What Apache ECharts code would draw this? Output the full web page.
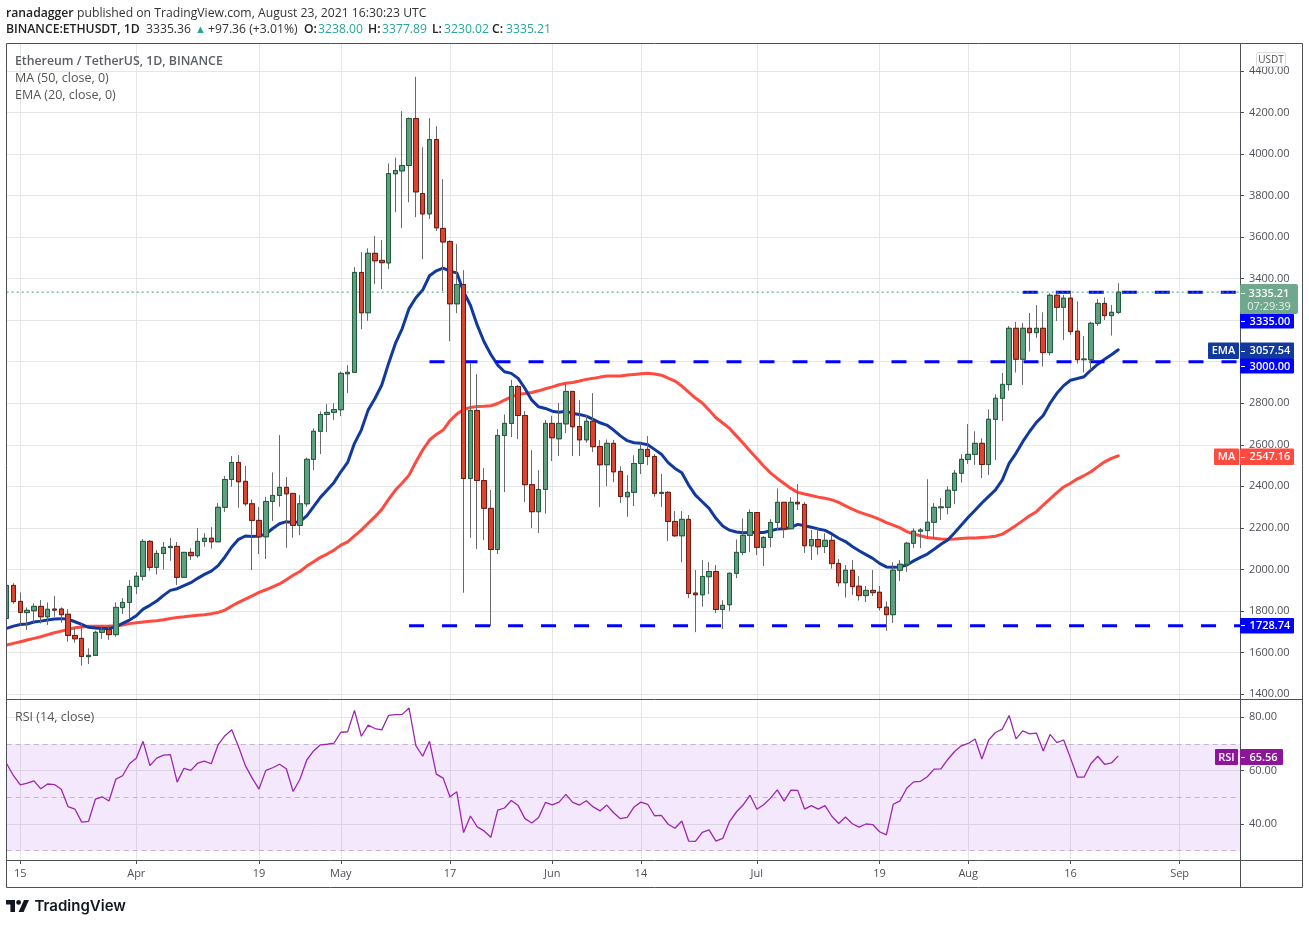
<!DOCTYPE html>
<html><head><meta charset="utf-8"><title>ETHUSDT</title>
<style>html,body{margin:0;padding:0;background:#fff}#c{width:1309px;height:925px}</style>
<script src="https://cdn.jsdelivr.net/npm/echarts@6/dist/echarts.min.js"></script>
</head><body><div id="c"></div>
<script>
const categories=[
'03-13','03-14','03-15','03-16','03-17','03-18','03-19','03-20','03-21','03-22','03-23','03-24','03-25','03-26','03-27','03-28','03-29','03-30','03-31',
'04-01','04-02','04-03','04-04','04-05','04-06','04-07','04-08','04-09','04-10','04-11','04-12','04-13','04-14','04-15','04-16','04-17','04-18','04-19','04-20','04-21','04-22','04-23','04-24','04-25','04-26','04-27','04-28','04-29','04-30',
'05-01','05-02','05-03','05-04','05-05','05-06','05-07','05-08','05-09','05-10','05-11','05-12','05-13','05-14','05-15','05-16','05-17','05-18','05-19','05-20','05-21','05-22','05-23','05-24','05-25','05-26','05-27','05-28','05-29','05-30','05-31',
'06-01','06-02','06-03','06-04','06-05','06-06','06-07','06-08','06-09','06-10','06-11','06-12','06-13','06-14','06-15','06-16','06-17','06-18','06-19','06-20','06-21','06-22','06-23','06-24','06-25','06-26','06-27','06-28','06-29','06-30',
'07-01','07-02','07-03','07-04','07-05','07-06','07-07','07-08','07-09','07-10','07-11','07-12','07-13','07-14','07-15','07-16','07-17','07-18','07-19','07-20','07-21','07-22','07-23','07-24','07-25','07-26','07-27','07-28','07-29','07-30','07-31',
'08-01','08-02','08-03','08-04','08-05','08-06','08-07','08-08','08-09','08-10','08-11','08-12','08-13','08-14','08-15','08-16','08-17','08-18','08-19','08-20','08-21','08-22','08-23','08-24','08-25','08-26','08-27','08-28','08-29','08-30','08-31',
'09-01','09-02','09-03','09-04','09-05','09-06','09-07','09-08','09-09','09-10'];
const opens=[1764,1923,1846,1792,1801,1822,1772,1809,1809,1784,
1682,1668,1580,1586,1697,1711,1686,1816,1841,1918,
1967,2135,2010,2077,2105,2111,1962,2082,2066,2135,
2150,2133,2299,2433,2515,2424,2316,2236,2157,2327,
2356,2395,2366,2212,2316,2530,2665,2746,2756,2769,
2942,2949,3430,3236,3522,3488,3476,3905,3919,3945,
4171,3810,3712,4070,3642,3579,3279,3372,2438,2765,
2428,2294,2096,2645,2703,2881,2741,2408,2278,2385,
2703,2629,2701,2857,2688,2624,2713,2592,2504,2607,
2472,2350,2371,2510,2578,2544,2366,2371,2231,2162,
2241,1886,1878,1965,1990,1807,1830,1981,2082,2164,
2274,2106,2154,2226,2323,2196,2323,2313,2114,2144,
2110,2140,2029,1936,1996,1919,1874,1899,1890,1818,
1782,1996,2025,2126,2184,2187,2227,2297,2299,2381,
2463,2529,2554,2607,2505,2723,2824,2890,3161,3012,
3161,3140,3161,3044,3320,3262,3306,3147,3010,3010,
3185,3281,3222,3238];
const closes=[1923,1845,1793,1803,1822,1772,1808,1804,1782,1682,
1666,1581,1586,1697,1711,1686,1817,1841,1918,1967,
2135,2010,2077,2106,2111,1962,2082,2066,2135,2150,
2133,2299,2433,2515,2422,2316,2236,2157,2327,2356,
2395,2364,2212,2316,2530,2665,2746,2756,2770,2944,
2949,3430,3236,3522,3486,3477,3906,3921,3945,4171,
3818,3712,4070,3645,3577,3279,3372,2438,2765,2428,
2294,2096,2645,2703,2881,2741,2408,2278,2385,2703,
2634,2703,2857,2687,2624,2713,2591,2504,2607,2470,
2351,2371,2510,2578,2544,2366,2371,2231,2162,2241,
1884,1878,1966,1990,1807,1827,1981,2082,2164,2274,
2106,2154,2226,2323,2196,2323,2316,2114,2144,2109,
2140,2028,1936,1996,1917,1874,1899,1888,1816,1782,
1996,2025,2126,2184,2190,2227,2299,2301,2381,2463,
2530,2554,2607,2505,2723,2824,2891,3161,3012,3161,
3140,3161,3044,3320,3262,3306,3145,3010,3013,3185,
3281,3222,3238,3335.21];
const highs=[1941,1933,1889,1817,1837,1853,1841,1872,1817,1809,
1719,1740,1620,1705,1732,1732,1841,1862,1949,1987,
2146,2142,2093,2132,2151,2132,2082,2103,2199,2174,
2204,2320,2450,2546,2551,2498,2337,2300,2350,2467,
2647,2445,2366,2358,2539,2679,2761,2796,2801,2953,
2984,3456,3528,3546,3605,3586,3955,3983,4207,4176,
4372,4033,4173,4134,3879,3585,3566,3441,2992,2940,
2488,2382,2676,2746,2912,2887,2762,2574,2478,2719,
2740,2801,2896,2857,2815,2743,2849,2623,2626,2623,
2496,2454,2550,2610,2642,2555,2459,2377,2281,2281,
2262,1997,2045,2035,2021,1852,1986,2144,2246,2289,
2274,2160,2242,2390,2323,2347,2411,2324,2190,2198,
2174,2166,2050,2021,2045,1968,1920,1997,1920,1845,
2034,2045,2132,2198,2200,2434,2320,2344,2400,2479,
2554,2700,2665,2631,2771,2843,2946,3172,3192,3187,
3235,3273,3238,3330,3330,3322,3336,3291,3124,3193,
3302,3310,3273,3377.89];
const lows=[1750,1835,1729,1708,1740,1740,1732,1772,1743,1652,
1647,1536,1544,1586,1665,1660,1676,1785,1764,1881,
1946,1994,1975,1999,2042,1925,1962,2045,2056,2109,
2100,2133,2277,2398,2297,2305,1997,2074,2050,2233,
2302,2104,2153,2165,2302,2478,2555,2661,2719,2738,
2849,2949,3157,3197,3374,3350,3446,3720,3643,3768,
3696,3494,3687,3629,3340,3099,3234,1888,2152,2098,
2141,1727,2074,2372,2637,2627,2324,2199,2175,2268,
2522,2546,2656,2546,2546,2610,2565,2300,2401,2420,
2319,2253,2305,2459,2502,2350,2300,2136,2156,2035,
1862,1698,1820,1881,1790,1713,1799,1958,2069,2083,
2069,2016,2107,2189,2151,2193,2286,2079,2045,2070,
2079,2004,1917,1864,1877,1850,1843,1872,1802,1704,
1742,1944,1988,2103,2103,2147,2147,2238,2265,2314,
2418,2508,2503,2440,2455,2527,2715,2861,2948,2888,
3049,3115,2977,3030,3196,3105,3129,2991,2948,2960,
3172,3201,3126,3230.02];
const emaValues=[1716,1727,1735,1737,1747,1751,1756,1761,1763,1760,
1748,1735,1721,1718,1716,1715,1724,1740,1756,1777,
1809,1827,1848,1875,1899,1907,1922,1936,1957,1976,
1992,2018,2060,2108,2145,2161,2159,2161,2170,2197,
2220,2230,2226,2230,2258,2302,2347,2382,2419,2470,
2515,2607,2671,2767,2823,2888,2992,3088,3160,3256,
3308,3345,3414,3438,3451,3436,3428,3337,3272,3176,
3096,3035,2984,2952,2944,2920,2871,2815,2783,2775,
2762,2757,2762,2751,2746,2738,2722,2706,2695,2671,
2643,2620,2610,2607,2600,2578,2555,2514,2486,2465,
2406,2358,2326,2294,2246,2209,2189,2180,2176,2178,
2178,2178,2186,2194,2196,2202,2217,2210,2203,2195,
2188,2171,2150,2134,2110,2090,2071,2053,2029,2012,
2010,2012,2021,2041,2058,2074,2097,2121,2142,2177,
2214,2251,2285,2320,2352,2383,2431,2511,2559,2615,
2664,2708,2741,2800,2848,2885,2911,2919,2928,2960,
2988,3012,3034,3057.54];
const maValues=[1636,1644,1652,1660,1668,1676,1686,1695,1703,1711,
1719,1723,1726,1726,1726,1727,1729,1732,1739,1743,
1747,1750,1753,1758,1764,1769,1772,1776,1779,1782,
1787,1793,1804,1824,1841,1857,1873,1889,1902,1916,
1930,1950,1972,1990,2016,2037,2058,2074,2093,2117,
2133,2161,2189,2222,2254,2289,2337,2382,2416,2454,
2517,2575,2623,2650,2671,2716,2748,2770,2780,2785,
2786,2788,2799,2815,2831,2843,2847,2852,2860,2870,
2879,2889,2896,2900,2907,2915,2920,2926,2931,2931,
2931,2936,2939,2942,2945,2941,2935,2921,2907,2883,
2854,2825,2801,2767,2730,2705,2679,2643,2607,2570,
2534,2498,2465,2438,2414,2390,2371,2363,2356,2348,
2343,2335,2323,2306,2290,2276,2265,2254,2241,2225,
2213,2200,2182,2170,2162,2154,2150,2146,2145,2146,
2149,2151,2151,2154,2156,2160,2170,2190,2212,2235,
2258,2278,2310,2340,2370,2397,2415,2436,2452,2470,
2495,2518,2535,2547.16];
const rsiValues=[62.6,58.1,54.7,55.3,56.2,53.2,55.0,54.8,53.0,46.5,
45.6,40.7,41.0,49.3,50.2,48.6,56.8,58.1,62.6,64.7,
71.0,61.9,64.7,65.8,66.0,55.7,60.9,60.1,62.8,63.6,
62.6,69.7,73.1,75.3,69.0,61.9,57.2,53.1,60.1,61.1,
62.4,60.7,52.2,56.8,64.0,67.4,69.7,69.9,70.3,74.4,
74.6,82.6,72.9,77.1,75.8,75.3,80.7,81.0,81.1,83.5,
69.4,65.4,71.0,58.7,57.2,50.2,52.1,36.8,43.0,38.9,
37.4,35.0,45.2,46.0,48.8,46.9,42.0,40.4,42.4,48.1,
47.2,48.2,51.1,48.1,47.1,48.7,46.4,44.9,47.1,44.2,
42.0,42.5,46.4,48.2,47.4,43.1,43.2,39.9,38.4,41.1,
33.6,33.5,36.9,37.8,33.6,34.6,40.9,44.5,47.2,50.8,
45.5,47.2,49.7,52.8,48.6,52.7,52.6,45.6,46.9,45.6,
46.9,42.9,40.2,42.6,40.1,38.8,40.0,39.8,37.1,35.9,
47.4,48.7,53.5,55.8,56.0,57.7,60.6,60.7,64.2,67.2,
69.3,70.2,71.9,64.4,71.5,74.3,75.6,80.7,71.9,74.9,
73.8,74.1,67.4,73.6,70.5,71.5,64.7,57.6,57.6,62.7,
65.4,62.4,62.9,65.56];
const tickDates=['03-15','04-01','04-19','05-01','05-17','06-01','06-14','07-01','07-19','08-01','08-16','09-01'];
const tickLabels=['15','Apr','19','May','17','Jun','14','Jul','19','Aug','16','Sep'];
const priceTicks=[1400,1600,1800,2000,2200,2400,2600,2800,3000,3200,3400,3600,3800,4000,4200,4400];
const rsiTicks=[40,60,80];
const rsiLevels=[70,50,30];
const lastPrice=3335.21;
const levelA=3335, levelAFrom='08-09';
const levelB=3000, levelBFrom='05-14';
const levelC=1728.74, levelCFrom='05-11';

const UI='"Open Sans", sans-serif';
const isTick=(i,v)=>tickDates.includes(v);
const axisGrey='#4e5058';
const gridCol='#e6e6e6';
const level=(v,from)=>categories.map((c,i)=>i>=categories.indexOf(from)?v:null);
const gw=[], bodies=[];
opens.forEach((o,i)=>{
  gw.push([o,closes[i],lows[i],highs[i]]);
  bodies.push([o,closes[i],Math.min(o,closes[i]),Math.max(o,closes[i])]);
});
const line=(name,data,color,z)=>({name,type:'line',data,xAxisIndex:0,yAxisIndex:0,symbol:'none',z,
  lineStyle:{color,width:3,cap:'round'},itemStyle:{color},silent:true});
const dash=(data)=>({type:'line',data,xAxisIndex:0,yAxisIndex:0,symbol:'none',z:3,silent:true,connectNulls:false,
  lineStyle:{color:'#0000ff',width:3,type:[15,18]}});

const chart=echarts.init(document.getElementById('c'),null,{renderer:'canvas'});
const gfx=[];
const T=(x,y,text,o={})=>gfx.push({type:'text',x,y,z:50,silent:true,style:Object.assign({text,fill:'#555',font:'12.5px '+UI,textVerticalAlign:'middle'},o)});
const R=(x,y,w,h,fill,r=1,z=40)=>gfx.push({type:'rect',z,silent:true,shape:{x,y,width:w,height:h,r},style:{fill}});
const L=(x1,y1,x2,y2,stroke,z=45)=>gfx.push({type:'line',z,silent:true,shape:{x1,y1,x2,y2},style:{stroke,lineWidth:1}});
// margin left of the frame hides the half candle cut by the pane edge
R(0,40,6.5,660,'#ffffff',0,25);
// frame
gfx.push({type:'rect',z:30,silent:true,shape:{x:6.5,y:43.5,width:1296,height:844},style:{fill:'none',stroke:axisGrey,lineWidth:1}});
L(6,699.5,1303,699.5,axisGrey,30);L(6,860.5,1303,860.5,axisGrey,30);L(1240.5,44,1240.5,888,axisGrey,30);
// header
const B='600 12.2px '+UI, N='12.2px '+UI, V='#26a69a';
T(6,13.5,'ranadagger',{font:B,fill:'#222'});
T(77,13.5,'published on TradingView.com, August 23, 2021 16:30:23 UTC',{font:N,fill:'#333'});
T(6,30,'BINANCE:ETHUSDT, 1D',{font:B,fill:'#222'});
T(146,30,'3335.36',{font:N,fill:'#333'});
T(195,30,'▲',{font:'11px '+UI,fill:V});
T(208,30,'+97.36 (+3.01%)',{font:N,fill:'#333'});
T(304,30,'O:',{font:B,fill:'#222'});T(318,30,'3238.00',{font:N,fill:V});
T(368,30,'H:',{font:B,fill:'#222'});T(382,30,'3377.89',{font:N,fill:V});
T(432,30,'L:',{font:B,fill:'#222'});T(444,30,'3230.02',{font:N,fill:V});
T(492,30,'C:',{font:B,fill:'#222'});T(506,30,'3335.21',{font:N,fill:V});
// pane legends
T(15,61,'Ethereum / TetherUS, 1D, BINANCE',{font:'600 12.3px '+UI,fill:'#5a5d66'});
T(15,78,'MA (50, close, 0)');T(15,95,'EMA (20, close, 0)');T(15,717,'RSI (14, close)');
// USDT box
gfx.push({type:'rect',z:40,silent:true,shape:{x:1256.5,y:52.5,width:29,height:14,r:2},style:{fill:'#fff',stroke:'#ddd'}});
T(1271,60,'USDT',{font:'10px '+UI,textAlign:'center',fill:'#555'});
// value labels
const tag=(x,y,w,h,fill,text,o={})=>{R(x,y,w,h,fill);T(x+w/2+(o.dx||0),y+h/2+.5,text,{font:(o.bold||'600')+' 11px '+UI,fill:'#fff',textAlign:'center'});};
R(1240,284,58,30,'#6fa88c',2);
T(1269,293.5,'3335.21',{font:'600 11px '+UI,fill:'#fff',textAlign:'center'});
T(1269,306.5,'07:29:39',{font:'11px '+UI,fill:'#e4f0ea',textAlign:'center'});
tag(1240,314,54,14.5,'#0000ff','3335.00',{dx:3});
tag(1208,342.5,31,16.5,'#123a9e','EMA');
tag(1240,342.5,54,16.5,'#123a9e','3057.54',{dx:3});
tag(1240,358.5,54,15,'#0000ff','3000.00',{dx:3});
tag(1214,448.5,25,16.5,'#ff4a40','MA');
tag(1240,448.5,54,16.5,'#ff4a40','2547.16',{dx:3});
tag(1240,618,54,15.5,'#0000ff','1728.74',{dx:3});
tag(1215,749,23,16,'#8e1599','RSI');
tag(1240,749,43,16,'#8e1599','65.56',{dx:2});
[321,351,366,457,625,757,293].forEach(y=>L(1241,y+.5,1245,y+.5,'#ffffff'));
// logo
const P=pts=>gfx.push({type:'polygon',z:50,silent:true,shape:{points:pts},style:{fill:'#131722'}});
P([[6,900],[15,900],[15,912],[10.4,912],[10.4,904.5],[6,904.5]]);
gfx.push({type:'circle',z:50,silent:true,shape:{cx:18.6,cy:902.4,r:2.4},style:{fill:'#131722'}});
P([[24,900],[29,900],[23.6,912],[18.6,912]]);
T(34.5,906.5,'TradingView',{font:'600 15px Inter, sans-serif',fill:'#131722'});

chart.setOption({
 animation:false,backgroundColor:'#fff',
 grid:[{left:6.7,right:68,top:44,height:655},{left:6.7,right:68,top:700,height:160}],
 xAxis:[0,1].map(k=>({type:'category',gridIndex:k,data:categories,boundaryGap:false,
   axisLine:{show:false},
   axisTick:{show:k===1,interval:isTick,length:4,lineStyle:{color:axisGrey}},
   axisLabel:{show:k===1,interval:isTick,formatter:v=>tickLabels[tickDates.indexOf(v)],color:'#4e5058',fontSize:11,fontFamily:UI,margin:8,hideOverlap:false},
   splitLine:{show:true,interval:isTick,lineStyle:{color:gridCol,width:1}}})),
 yAxis:[
  {type:'value',gridIndex:0,position:'right',min:1376,max:4530,offset:-1,
   axisLine:{show:false},axisTick:{show:true,customValues:priceTicks,length:4,lineStyle:{color:axisGrey}},
   axisLabel:{customValues:priceTicks,formatter:v=>v.toFixed(2),color:'#4e5058',fontSize:11,fontFamily:UI,margin:9,padding:[4,0,0,0]},
   splitLine:{show:true,lineStyle:{color:gridCol,width:1}}},
  {type:'value',gridIndex:1,position:'right',min:26.5,max:86.5,offset:-1,
   axisLine:{show:false},axisTick:{show:true,customValues:rsiTicks,length:4,lineStyle:{color:axisGrey}},
   axisLabel:{customValues:rsiTicks,formatter:v=>v.toFixed(2),color:'#4e5058',fontSize:11,fontFamily:UI,margin:9,padding:[4,0,0,0]},
   splitLine:{show:true,lineStyle:{color:gridCol,width:1}}}],
 series:[
  line('MA',maValues,'#ff4a40',2),
  line('EMA',emaValues,'#123a9e',2),
  dash(level(levelA,levelAFrom)),dash(level(levelB,levelBFrom)),dash(level(levelC,levelCFrom)),
  {type:'line',data:categories.map(()=>lastPrice),symbol:'none',z:4,silent:true,lineStyle:{color:'#3f9a6c',width:1,type:[2,3]}},
  {name:'wicks',type:'candlestick',data:gw,barWidth:5,z:5,silent:true,clip:true,
   itemStyle:{color:'#6a6a6a',color0:'#6a6a6a',borderColor:'#6a6a6a',borderColor0:'#6a6a6a',borderWidth:1}},
  {name:'bodies',type:'candlestick',data:bodies,barWidth:5,z:6,silent:true,clip:true,
   itemStyle:{color:'#5f9f7f',color0:'#d9452f',borderColor:'#1f5d3c',borderColor0:'#6f1a12',borderWidth:1}},
  {name:'RSI',type:'line',data:rsiValues,xAxisIndex:1,yAxisIndex:1,symbol:'none',z:5,silent:true,
   lineStyle:{color:'#9c27b0',width:1.3},
   markArea:{silent:true,itemStyle:{color:'rgba(155,40,240,0.105)'},data:[[{yAxis:rsiLevels[0]},{yAxis:rsiLevels[2]}]]},
   markLine:{silent:true,symbol:'none',label:{show:false},lineStyle:{color:'#c0b6c6',type:[5,4],width:1},data:rsiLevels.map(v=>({yAxis:v}))}}
 ],
 graphic:{elements:gfx}
});
</script></body></html>
